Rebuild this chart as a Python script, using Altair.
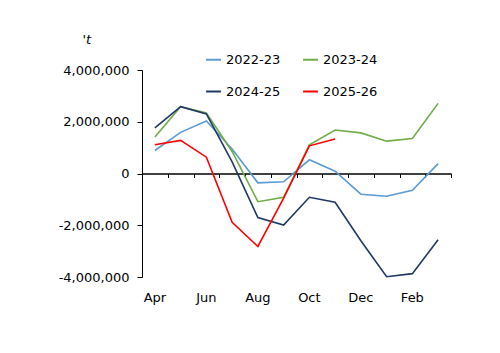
import altair as alt
import pandas as pd

months = ["Apr", "May", "Jun", "Jul", "Aug", "Sep", "Oct", "Nov", "Dec", "Jan", "Feb", "Mar"]
shown_labels = ["Apr", "Jun", "Aug", "Oct", "Dec", "Feb"]
series_names = ["2022-23", "2023-24", "2024-25", "2025-26"]
colors = ["#5B9BD5", "#70AD47", "#1F3864", "#FF0000"]

s2022 = [890000, 1590000, 2030000, 950000, -360000, -320000, 530000, 90000, -800000, -880000, -650000, 380000]
s2023 = [1410000, 2580000, 2340000, 850000, -1090000, -920000, 1110000, 1680000, 1570000, 1250000, 1350000, 2710000]
s2024 = [1760000, 2580000, 2300000, 450000, -1700000, -1990000, -920000, -1110000, -2600000, -3990000, -3870000, -2560000]
s2025 = [1110000, 1280000, 630000, -1890000, -2820000, -950000, 1070000, 1330000, None, None, None, None]

rows = []
for name, vals in zip(series_names, [s2022, s2023, s2024, s2025]):
    for m, v in zip(months, vals):
        if v is not None:
            rows.append({"month": m, "series": name, "value": v})
df = pd.DataFrame(rows)

FONT = "DejaVu Sans"
xscale = alt.Scale(type="band", domain=months, paddingInner=0, paddingOuter=0)
yscale = alt.Scale(domain=[-4000000, 4000000], nice=False)

label_expr = "indexof(" + str(shown_labels) + ", datum.value) >= 0 ? datum.label : ''"

yaxis = alt.Axis(values=[-4000000, -2000000, 0, 2000000, 4000000],
                 labelExpr="(datum.value < 0 ? '-' : '') + format(abs(datum.value), ',')",
                 grid=False, domainColor="#000000", tickColor="#000000",
                 tickSize=5, labelPadding=8, labelFont=FONT, labelFontSize=13,
                 labelColor="#000000", title="'t", titleAngle=0, titleX=-60,
                 titleY=-24, titleFont=FONT, titleFontSize=13,
                 titleFontWeight="normal", titleFontStyle="italic",
                 titleColor="#000000", titleAlign="left", orient="left")

lines = alt.Chart(df).mark_line(strokeWidth=1.6).encode(
    x=alt.X("month:N", sort=months, scale=xscale, bandPosition=0.5,
            axis=alt.Axis(title=None, domain=False, ticks=False, labelAngle=0, orient="bottom",
                          labelExpr=label_expr, labelPadding=14, labelFont=FONT,
                          labelFontSize=13, labelColor="#000000")),
    y=alt.Y("value:Q", scale=yscale, axis=yaxis),
    color=alt.Color("series:N", sort=series_names,
                    scale=alt.Scale(domain=series_names, range=colors),
                    legend=alt.Legend(title=None, orient="none", legendX=63, legendY=-19,
                                      columns=2, direction="horizontal", symbolType="stroke",
                                      symbolSize=220, symbolStrokeWidth=2, labelFont=FONT,
                                      labelFontSize=13, labelColor="#000000", columnPadding=18,
                                      rowPadding=16, labelOffset=4, padding=0)),
)

zero_axis = alt.Chart(df).mark_line(opacity=0).encode(
    x=alt.X("month:N", sort=months, scale=xscale, bandPosition=0.5,
            axis=alt.Axis(title=None, labels=False, domain=True, ticks=True, tickBand="extent",
                          tickSize=4, offset=-103.5, orient="bottom", domainColor="#000000",
                          tickColor="#000000", domainWidth=1.5)),
    y=alt.Y("value:Q", scale=yscale, axis=yaxis),
    detail="series:N",
)

chart = alt.layer(lines, zero_axis).resolve_axis(x="independent").properties(
    width=309, height=207, autosize="none",
    padding={"left": 142, "top": 70, "right": 49, "bottom": 76},
).configure(background="#ffffff").configure_view(stroke=None, strokeWidth=0)

chart.save("out.html", embed_options={"renderer": "svg", "actions": False})
